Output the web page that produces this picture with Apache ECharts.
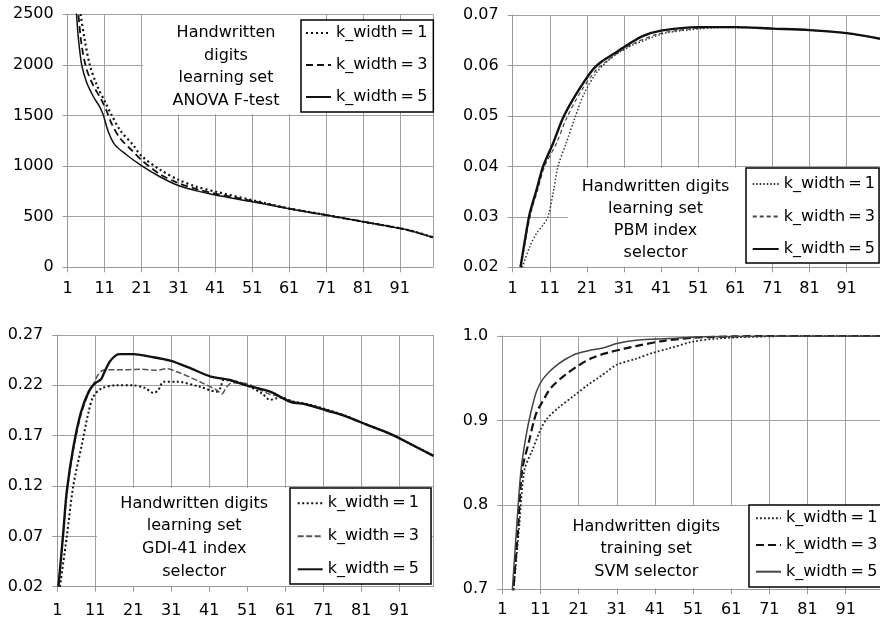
<!DOCTYPE html>
<html>
<head>
<meta charset="utf-8">
<script src="https://cdn.jsdelivr.net/npm/echarts@6/dist/echarts.min.js"></script>
<style>
html,body{margin:0;padding:0;background:#fff;}
#chart{width:880px;height:622px;}
</style>
</head>
<body>
<div id="chart"></div>
<script>
// ---------- data (x = number of features, y = criterion value) ----------
var legendNames = ['k_width\u2009=\u20091', 'k_width\u2009=\u20093', 'k_width\u2009=\u20095'];
var xTicks = [1, 11, 21, 31, 41, 51, 61, 71, 81, 91];

var annotations = [
  'Handwritten\ndigits\nlearning set\nANOVA F-test',
  'Handwritten digits\nlearning set\nPBM index\nselector',
  'Handwritten digits\nlearning set\nGDI-41 index\nselector',
  'Handwritten digits\ntraining set\nSVM selector'
];

// Panel 1: ANOVA F-test
var p1k1 = [[4.3,2600],[4.5,2500],[5.7,2230],[7,2000],[8.9,1800],[11.1,1635],[12.9,1505],[15.2,1355],[18.8,1205],[21,1100],[26,965],[31,865],[36,795],[41,748],[51,664],[61,582],[71,517],[81,451],[91,386],[95,352],[100,296]];
var p1k3 = [[3.7,2600],[3.9,2500],[4.8,2190],[6.1,1960],[7.9,1800],[10.2,1650],[11.6,1540],[12.9,1420],[15.2,1275],[18.8,1140],[21,1060],[26,920],[31,832],[36,772],[41,728],[51,656],[61,580],[71,516],[81,451],[91,385],[95,351],[100,296]];
var p1k5 = [[3.2,2600],[3.4,2500],[3.9,2260],[4.8,2000],[6.1,1830],[7.9,1690],[9.6,1590],[10.6,1510],[12,1340],[13.8,1210],[17,1110],[21,1005],[26,895],[31,808],[36,755],[41,714],[51,648],[61,578],[71,516],[81,451],[91,385],[95,350],[100,295]];

// Panel 2: PBM index
var p2k1 = [[3.6,0.02],[5.6,0.0241],[7.4,0.0267],[9.2,0.0284],[10.5,0.030],[11.9,0.0347],[13.2,0.040],[15.4,0.0446],[17.7,0.0495],[20.3,0.0545],[23.5,0.0585],[26.3,0.0607],[30,0.0627],[33.5,0.0641],[38,0.0654],[42,0.0664],[49,0.0671],[57,0.0675],[61,0.0675],[71,0.0673],[81,0.0670],[91,0.0664],[100,0.0653]];
var p2k3 = [[3.3,0.02],[4.5,0.0256],[6,0.031],[7.8,0.0355],[9.6,0.040],[12.8,0.0446],[15.5,0.0495],[19.1,0.0545],[23.5,0.0591],[27,0.0612],[30,0.0628],[34,0.0645],[40,0.0662],[46,0.0670],[53,0.0675],[61,0.0676],[71,0.0673],[81,0.0670],[91,0.0664],[100,0.0653]];
var p2k5 = [[3.1,0.02],[4.3,0.0254],[5.6,0.0307],[7.4,0.0353],[9.2,0.040],[11.9,0.0446],[14.5,0.0495],[18.1,0.0543],[22.5,0.0591],[25,0.0608],[28,0.0622],[32,0.0641],[36,0.0658],[41,0.0669],[51,0.0676],[61,0.0676],[71,0.0673],[81,0.0670],[91,0.0664],[100,0.0653]];

// Panel 3: GDI-41 index
var p3k1 = [[1.7,0.02],[3.5,0.07],[5.2,0.12],[7.4,0.16],[9.2,0.193],[10.5,0.209],[12.7,0.217],[16.6,0.220],[21,0.220],[24,0.2175],[26.3,0.2125],[27.5,0.215],[29,0.2236],[32.4,0.2236],[38.5,0.2186],[42.9,0.2137],[44,0.218],[44.7,0.2253],[48.2,0.2236],[51.7,0.2186],[55,0.2115],[57,0.2055],[58.5,0.207],[60,0.208],[63,0.204],[66.6,0.2015],[71.9,0.196],[77,0.1895],[82.4,0.181],[88.5,0.172],[93.8,0.162],[100,0.150]];
var p3k3 = [[1.3,0.02],[2.6,0.075],[3.5,0.112],[5.2,0.155],[7.2,0.19],[9.3,0.213],[10.9,0.224],[11.8,0.231],[13,0.235],[14,0.2355],[18.4,0.2355],[22.8,0.236],[27.2,0.235],[29.8,0.2365],[32.4,0.2335],[36,0.228],[39.4,0.222],[42.9,0.2154],[44.3,0.2115],[45.5,0.218],[47,0.2225],[51,0.2215],[54,0.216],[57,0.211],[59,0.2095],[62.3,0.2045],[66.6,0.201],[71.9,0.1955],[77.1,0.189],[82.4,0.181],[88.5,0.172],[93.8,0.162],[100,0.150]];
var p3k5 = [[1.3,0.02],[2.6,0.075],[3.5,0.115],[5.2,0.158],[7.2,0.193],[9.3,0.214],[10.9,0.222],[12.5,0.226],[13.5,0.234],[14.9,0.244],[16.5,0.250],[17.5,0.251],[21,0.251],[25.4,0.2485],[30.7,0.2445],[36,0.237],[41.2,0.229],[46.4,0.2253],[50.8,0.220],[57,0.2137],[62.3,0.2037],[66.6,0.201],[71.9,0.195],[77.1,0.189],[82.4,0.181],[88.5,0.172],[93.8,0.162],[100,0.150]];

// Panel 4: SVM selector
var p4k1 = [[3.9,0.69],[4,0.70],[5.5,0.778],[6.8,0.841],[8.9,0.865],[11,0.889],[12.7,0.902],[15.7,0.915],[20,0.93],[23.4,0.942],[26,0.95],[28.5,0.958],[31,0.966],[36,0.973],[40.4,0.980],[44.6,0.985],[50.6,0.993],[57.4,0.997],[65.9,0.999],[78.6,1.0],[100,1.0]];
var p4k3 = [[3.75,0.69],[3.9,0.70],[5.1,0.770],[6.2,0.841],[8.1,0.877],[9.3,0.90],[10.2,0.912],[11,0.918],[12.5,0.93],[14,0.940],[17.5,0.954],[21,0.965],[24.5,0.974],[28.5,0.980],[33,0.985],[36,0.988],[42.9,0.994],[51.4,0.998],[61.6,0.9995],[70,1.0],[100,1.0]];
var p4k5 = [[3.5,0.69],[3.65,0.70],[4.7,0.770],[5.9,0.841],[7.2,0.881],[8.5,0.910],[10,0.935],[11.5,0.948],[13.2,0.957],[14.9,0.964],[17,0.971],[20.4,0.979],[24,0.983],[27.6,0.986],[31,0.991],[36,0.995],[44.6,0.997],[53,0.999],[61,0.9995],[70,1.0],[100,1.0]];

// ---------- layout ----------
var FONT = 'DejaVu Sans';
var grids = [
  {left: 67.7, top: 14.3, width: 365.3, height: 253},
  {left: 512.7, top: 15, width: 370.3, height: 252.3},
  {left: 57.3, top: 335, width: 376.2, height: 251.7},
  {left: 502.3, top: 336, width: 387.7, height: 253.3}
];
var yCfg = [
  {min: 0, max: 2500, interval: 500, dec: 0},
  {min: 0.02, max: 0.07, interval: 0.01, dec: 2},
  {min: 0.02, max: 0.27, interval: 0.05, dec: 2},
  {min: 0.7, max: 1.0, interval: 0.1, dec: 1}
];
var xLabelMargin = [14, 14, 16, 13];
var GRID_C = '#a0a0a0';

var xAxes = grids.map(function (g, i) {
  return {
    type: 'value', gridIndex: i, min: 1, max: 100, interval: 10,
    axisLine: {show: true, lineStyle: {color: '#999', width: 1}},
    axisTick: {show: true, length: 5, lineStyle: {color: '#999'}},
    axisLabel: {margin: xLabelMargin[i], color: '#000', fontFamily: FONT, fontSize: 16, showMaxLabel: false,
      formatter: function (v) { return xTicks.indexOf(v) >= 0 ? String(v) : ''; }},
    splitLine: {show: true, lineStyle: {color: GRID_C, width: 1}}
  };
});
var yAxes = yCfg.map(function (c, i) {
  return {
    type: 'value', gridIndex: i, min: c.min, max: c.max, interval: c.interval,
    axisLine: {show: true, lineStyle: {color: '#999', width: 1}},
    axisTick: {show: true, length: 5, lineStyle: {color: '#999'}},
    axisLabel: {margin: 14, color: '#000', fontFamily: FONT, fontSize: 16,
      formatter: function (v) { return Number(v).toFixed(c.dec); }},
    splitLine: {show: true, lineStyle: {color: GRID_C, width: 1}}
  };
});

var panelData = [[p1k1, p1k3, p1k5], [p2k1, p2k3, p2k5], [p3k1, p3k3, p3k5], [p4k1, p4k3, p4k5]];
var styles = [
  [{color: '#111', width: 2.2, type: [2, 3]}, {color: '#111', width: 1.8, type: [7, 4]}, {color: '#111', width: 1.5, type: 'solid'}],
  [{color: '#333', width: 1.5, type: [1.5, 2]}, {color: '#444', width: 1.2, type: [4, 3]}, {color: '#111', width: 2.4, type: 'solid'}],
  [{color: '#111', width: 2.0, type: [2, 2.5]}, {color: '#555', width: 1.5, type: [6, 2.5]}, {color: '#111', width: 2.4, type: 'solid'}],
  [{color: '#222', width: 1.8, type: [1.8, 2.2]}, {color: '#111', width: 2.2, type: [8, 4]}, {color: '#444', width: 1.5, type: 'solid'}]
];

var series = [];
panelData.forEach(function (arr, p) {
  arr.forEach(function (d, k) {
    var st = styles[p][k];
    series.push({
      name: 'P' + p + '|' + legendNames[k],
      type: 'line', xAxisIndex: p, yAxisIndex: p, data: d,
      symbol: 'none', smooth: 0.3, clip: true, silent: true, animation: false,
      lineStyle: {color: st.color, width: st.width, type: st.type, cap: 'butt'},
      itemStyle: {color: st.color},
      z: 3
    });
  });
});

var legendPos = [
  {left: 301, top: 20, padding: [5, 6, 7, 4], itemGap: 16, itemWidth: 25},
  {left: 746, top: 168, padding: [8, 4, 6, 5.7], itemGap: 16.5, itemWidth: 26},
  {left: 290, top: 488, padding: [7.3, 12, 6.7, 6.7], itemGap: 17, itemWidth: 25},
  {left: 749, top: 505, padding: [5.3, 5, 7.3, 6], itemGap: 10.7, itemWidth: 25}
];
var legends = legendPos.map(function (L, p) {
  return {
    orient: 'vertical', left: L.left, top: L.top, padding: L.padding, itemGap: L.itemGap,
    itemWidth: L.itemWidth, itemHeight: 14, selectedMode: false,
    backgroundColor: '#fff', borderColor: '#000', borderWidth: 1.5, borderRadius: 0,
    itemStyle: {color: 'rgba(0,0,0,0)', borderColor: 'rgba(0,0,0,0)', borderWidth: 0},
    data: legendNames.map(function (n) { return 'P' + p + '|' + n; }),
    formatter: function (name) { return name.split('|')[1]; },
    textStyle: {color: '#000', fontFamily: FONT, fontSize: 16}
  };
});

// white boxes behind annotation text (cover the grid lines)
var boxes = [
  {x: 143, y: 15, w: 157, h: 99, cx: 226, ty: 21.8, lh: 22.5},
  {x: 568, y: 168, w: 177, h: 98.5, cx: 655.5, ty: 175.6, lh: 22.2},
  {x: 97, y: 488, w: 192, h: 98, cx: 194.2, ty: 492, lh: 22.8},
  {x: 550, y: 506, w: 198, h: 82.5, cx: 646.3, ty: 515.5, lh: 22.5}
];
var graphics = [];
boxes.forEach(function (b, i) {
  graphics.push({type: 'rect', silent: true, z: 1, shape: {x: b.x, y: b.y, width: b.w, height: b.h}, style: {fill: '#fff'}});
  graphics.push({type: 'text', silent: true, z: 5, x: b.cx, y: b.ty,
    style: {text: annotations[i], fill: '#000', font: '16px "' + FONT + '"', align: 'center', verticalAlign: 'top', lineHeight: b.lh}});
});

var chart = echarts.init(document.getElementById('chart'), null, {renderer: 'canvas'});
chart.setOption({
  animation: false,
  backgroundColor: '#fff',
  grid: grids,
  xAxis: xAxes,
  yAxis: yAxes,
  legend: legends,
  series: series,
  graphic: {elements: graphics}
});
</script>
</body>
</html>
